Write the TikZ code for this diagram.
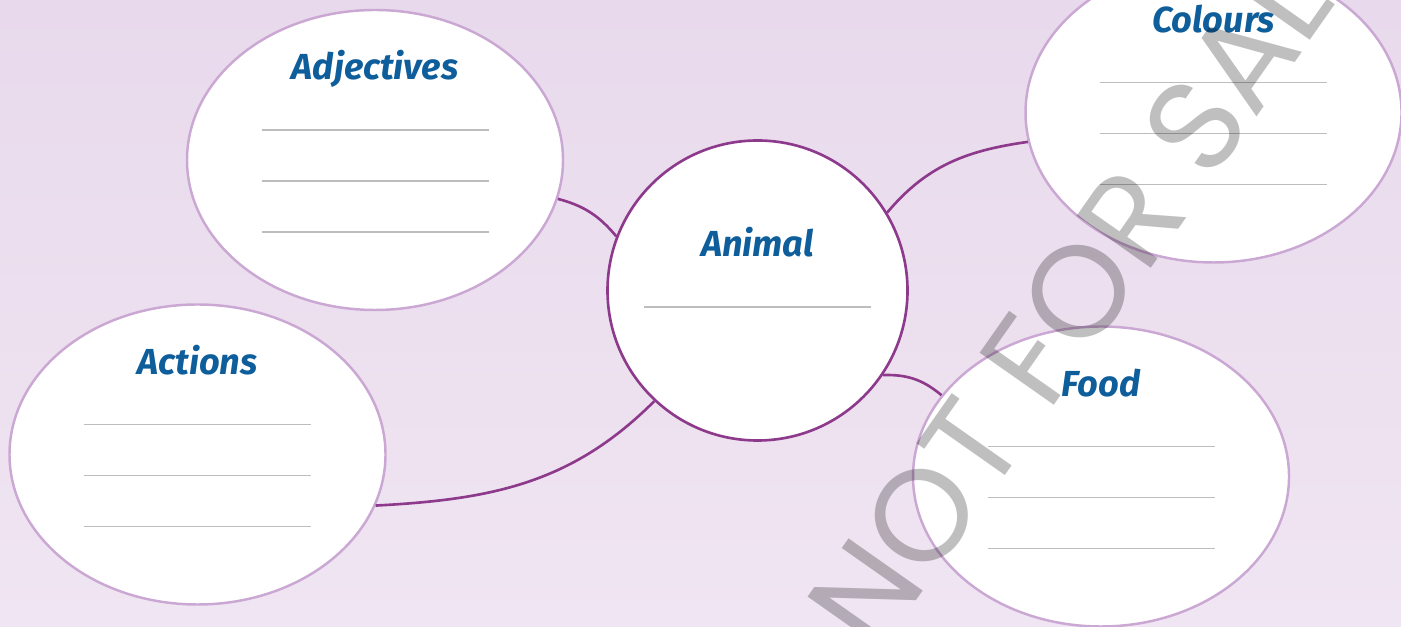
\documentclass[tikz,border=0pt]{standalone}
\usepackage{fontspec}
\usetikzlibrary{shapes.geometric}
\newfontfamily\titlefont{Fira Sans}
\newfontfamily\wmfont{Poppins}
\definecolor{bgtop}{HTML}{E8DAEC}
\definecolor{bgbot}{HTML}{F0E5F2}
\definecolor{rimlight}{HTML}{CBA8D3}
\definecolor{rimdark}{HTML}{8E3A8C}
\definecolor{titleblue}{HTML}{0F5E9C}
\definecolor{rule}{HTML}{BDBDBD}

\begin{document}
\begin{tikzpicture}[
  bubble/.style={ellipse,draw=rimlight,line width=0.7pt,fill=white,minimum width=3.76cm,minimum height=3cm,inner sep=0pt},
  hub/.style={circle,draw=rimdark,line width=0.75pt,fill=white,minimum size=3cm,inner sep=0pt},
  link/.style={draw=rimdark,line width=0.75pt},
  title/.style={font=\titlefont\bfseries\itshape\fontsize{10.3}{12}\selectfont,text=titleblue,anchor=base,inner sep=0pt},
  writeline/.style={draw=rule,line width=0.45pt}]

\useasboundingbox (0,0) rectangle (14.01,6.27);
\fill[top color=bgtop,bottom color=bgbot] (0,0) rectangle (14.01,6.27);

\node[bubble] (adj) at (3.75,4.67) {};
\node[bubble] (act) at (1.975,1.725) {};
\node[hub] (ani) at (7.575,3.365) {};
\node[bubble] (col) at (12.135,5.145) {};
\node[bubble] (food) at (11.01,1.505) {};

\node[title] (adjt) at ([yshift=0.8cm]adj.center) {Adjectives};
\node[title] (actt) at ([yshift=0.8cm]act.center) {Actions};
\node[title] (colt) at ([yshift=0.8cm]col.center) {Colours};
\node[title] (foodt) at ([yshift=0.8cm]food.center) {Food};
\node[title] (anit) at ([yshift=0.335cm]ani.center) {Animal};

% lines to write on
\foreach \b in {adj,act,col,food}
  \foreach \y in {0.3,-0.21,-0.72}
    \draw[writeline] ([xshift=-1.135cm,yshift=\y cm]\b.center) -- ++(2.27,0);
\draw[writeline] ([xshift=-1.135cm,yshift=-0.165cm]ani.center) -- ++(2.27,0);

\draw[link] (adj.-12) to[out=-15,in=130] (ani.159);
\draw[link] (ani.31) to[out=50,in=188] (col.189);
\draw[link] (ani.-34) to[out=2,in=140] (food.153);
\draw[link] (ani.-133) to[out=-135,in=3] (act.-16);

\node[font=\wmfont\fontsize{37}{37}\selectfont,text=black,opacity=0.25,rotate=54.9,inner sep=0pt] (wm) at (10.89,3.50) {NOT FOR SALE};
\end{tikzpicture}
\end{document}
